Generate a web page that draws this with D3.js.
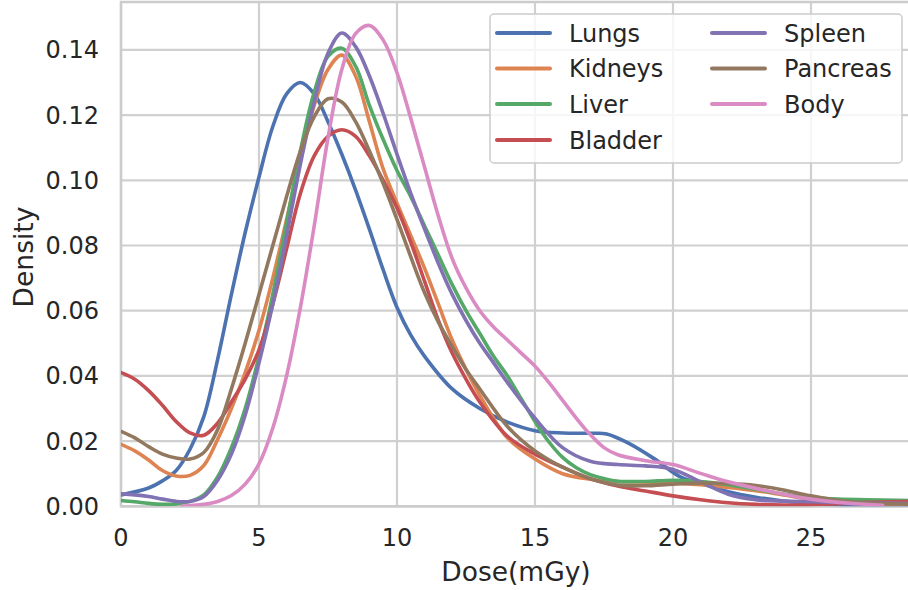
<!DOCTYPE html>
<html>
<head>
<meta charset="utf-8">
<script src="https://cdn.jsdelivr.net/npm/d3@7"></script>
<style>
  body { margin: 0; background: #fff; }
  svg { display: block; font-family: "DejaVu Sans", sans-serif; }
</style>
</head>
<body>
<svg width="908" height="590"></svg>
<script>
// kde curves, [dose, density]
var lungs = [[0,0.0035],[1,0.0056],[1.5,0.0078],[2,0.011],[2.5,0.0175],[3,0.0275],[3.5,0.045],[4,0.065],[4.5,0.084],[5,0.101],
  [5.5,0.1165],[6,0.1265],[6.5,0.130],[7,0.1265],[7.5,0.118],[8,0.108],[8.5,0.097],[9,0.085],[9.5,0.0725],[10,0.061],
  [10.5,0.0525],[11,0.046],[12,0.036],[13,0.030],[14,0.0258],[15,0.0232],[16,0.0225],[17,0.0224],[17.6,0.0222],[18.4,0.0193],
  [19.3,0.0147],[20.25,0.0091],[21,0.007],[22,0.0045],[23,0.0028],[24,0.0016],[25,0.0009],[26,0.0005],[27,0.0003],[29.5,0.0001]];
var kidneys = [[0,0.019],[0.5,0.017],[1,0.0142],[1.5,0.011],[2,0.0093],[2.5,0.0095],[3,0.0125],[3.5,0.0205],[4,0.030],
  [4.5,0.041],[5,0.054],[5.5,0.070],[6,0.088],[6.5,0.107],[7,0.123],[7.5,0.134],[8,0.1384],[8.5,0.132],[9,0.118],
  [9.5,0.1035],[10,0.093],[10.5,0.083],[11,0.073],[11.5,0.062],[12,0.051],[12.5,0.042],[13,0.034],[14,0.021],
  [15,0.0145],[16,0.010],[17,0.0083],[18,0.0076],[19,0.0074],[20,0.0072],[21,0.0066],[22,0.0058],[23,0.0048],
  [24,0.0035],[25,0.0022],[26,0.0014],[27,0.0009],[29.5,0.0005]];
var liver = [[0,0.0018],[0.5,0.0014],[1,0.0009],[1.5,0.0006],[2,0.0007],[2.5,0.0015],[3,0.0035],[3.5,0.009],[4,0.018],
  [4.5,0.030],[5,0.046],[5.5,0.065],[6,0.087],[6.5,0.109],[7,0.127],[7.5,0.138],[8,0.1405],[8.5,0.135],[9,0.123],
  [9.5,0.1125],[10,0.103],[10.5,0.095],[11,0.086],[11.5,0.077],[12,0.068],[12.5,0.060],[13,0.053],[13.5,0.046],
  [14,0.040],[14.5,0.033],[15,0.026],[15.5,0.0198],[16,0.015],[16.5,0.0118],[17,0.0097],[17.5,0.0085],[18,0.0077],
  [19,0.0076],[20,0.008],[21,0.0076],[22,0.0066],[23,0.0052],[24,0.0038],[25,0.0027],[26,0.0022],[27,0.002],[29.5,0.0016]];
var bladder = [[0,0.041],[0.5,0.039],[1,0.0355],[1.5,0.031],[2,0.026],[2.5,0.0225],[3,0.0218],[3.5,0.0255],[4,0.032],
  [4.5,0.039],[5,0.048],[5.5,0.062],[6,0.079],[6.5,0.096],[7,0.1075],[7.5,0.1135],[8,0.1155],[8.5,0.1135],[9,0.1075],
  [9.5,0.100],[10,0.0915],[10.5,0.081],[11,0.069],[11.5,0.057],[12,0.047],[12.5,0.039],[13,0.032],[14,0.0215],
  [15,0.016],[16,0.012],[17,0.0085],[18,0.0062],[19,0.0047],[20,0.0032],[21,0.002],[22,0.0011],[23,0.0006],
  [24,0.0004],[25,0.0005],[26,0.0008],[27,0.0012],[29.5,0.0016]];
var spleen = [[0,0.0038],[0.5,0.0035],[1,0.003],[1.5,0.0022],[2,0.0015],[2.5,0.0015],[3,0.003],[3.5,0.008],[4,0.016],
  [4.5,0.028],[5,0.044],[5.5,0.062],[6,0.083],[6.5,0.105],[7,0.124],[7.5,0.139],[8,0.1452],[8.5,0.141],[9,0.132],
  [9.5,0.1205],[10,0.108],[10.5,0.096],[11,0.085],[11.5,0.0745],[12,0.065],[12.5,0.057],[13,0.050],[13.5,0.044],
  [14,0.038],[15,0.027],[16,0.018],[17,0.0138],[18,0.0128],[19,0.0124],[20,0.0113],[21,0.0075],[22,0.0037],
  [23,0.002],[24,0.0016],[25,0.0014],[26,0.0012],[27,0.001],[29.5,0.0008]];
var pancreas = [[0,0.023],[0.5,0.021],[1,0.0183],[1.5,0.016],[2,0.0148],[2.5,0.0145],[3,0.0165],[3.5,0.0235],[4,0.036],
  [4.5,0.050],[5,0.065],[5.5,0.080],[6,0.095],[6.5,0.109],[7,0.1195],[7.5,0.125],[8,0.124],[8.5,0.118],[9,0.109],
  [9.5,0.099],[10,0.088],[10.5,0.0765],[11,0.0655],[11.5,0.0565],[12,0.049],[12.5,0.042],[13,0.036],[14,0.0245],
  [15,0.017],[16,0.012],[17,0.0085],[18,0.0065],[19,0.0063],[20,0.0068],[21,0.0071],[22,0.007],[23,0.0064],
  [24,0.005],[25,0.0032],[26,0.0018],[27,0.001],[29.5,0.0006]];
var body = [[2.2,0],[2.5,0.0002],[3,0.0006],[3.5,0.0015],[4,0.0033],[4.5,0.0068],[5,0.013],[5.5,0.024],[6,0.040],
  [6.5,0.061],[7,0.086],[7.5,0.113],[8,0.134],[8.5,0.145],[9,0.1475],[9.5,0.143],[10,0.133],[10.5,0.119],[11,0.104],
  [11.5,0.089],[12,0.076],[12.5,0.067],[13,0.060],[13.5,0.055],[14,0.051],[14.5,0.047],[15,0.043],[15.5,0.038],
  [16,0.0325],[16.5,0.027],[17,0.022],[17.5,0.018],[18,0.0158],[19,0.014],[20,0.0128],[21,0.0101],[22,0.0075],
  [23,0.0055],[24,0.0037],[25,0.0022],[26,0.0012],[27,0.0006],[27.6,0.0003]];

var names = ["Lungs", "Kidneys", "Liver", "Bladder", "Spleen", "Pancreas", "Body"];
var colors = ["#4c72b0", "#dd8452", "#55a868", "#c44e52", "#8172b3", "#937860", "#da8bc3"];
var series = [lungs, kidneys, liver, bladder, spleen, pancreas, body];
var xTicks = [0, 5, 10, 15, 20, 25, 30];
var yTicks = [0, 0.02, 0.04, 0.06, 0.08, 0.10, 0.12, 0.14];

var svg = d3.select("svg"),
    plotLeft = 121, plotTop = 2, plotBottom = 506.3,
    plotRight = plotLeft + 30 * 27.6;

var x = d3.scaleLinear().domain([0, 30]).range([plotLeft, plotRight]);
var y = d3.scaleLinear().domain([0, 0.1547]).range([plotBottom, plotTop]);

svg.append("defs").append("clipPath").attr("id", "plot")
  .append("rect").attr("x", plotLeft).attr("y", plotTop)
  .attr("width", plotRight - plotLeft).attr("height", plotBottom - plotTop);

// grid
var grid = svg.append("g").attr("stroke", "#d0d0d0").attr("stroke-width", 2.2);
grid.selectAll(".gx").data(xTicks).enter().append("line")
    .attr("x1", x).attr("x2", x).attr("y1", plotTop).attr("y2", plotBottom);
grid.selectAll(".gy").data(yTicks).enter().append("line")
    .attr("x1", plotLeft).attr("x2", plotRight).attr("y1", y).attr("y2", y);

// spines
svg.append("rect").attr("x", plotLeft).attr("y", plotTop)
  .attr("width", plotRight - plotLeft).attr("height", plotBottom - plotTop)
  .attr("fill", "none").attr("stroke", "#cccccc").attr("stroke-width", 2.5);

// curves
var line = d3.line()
    .x(function(d) { return x(d[0]); })
    .y(function(d) { return y(d[1]); })
    .curve(d3.curveCatmullRom.alpha(0.5));

svg.append("g").attr("clip-path", "url(#plot)")
  .selectAll("path").data(series).enter().append("path")
    .attr("d", line)
    .attr("fill", "none")
    .attr("stroke", function(d, i) { return colors[i]; })
    .attr("stroke-width", 3.6)
    .attr("stroke-linejoin", "round")
    .attr("stroke-linecap", "round");

// tick labels
var fontSize = 24;
svg.append("g").selectAll("text").data(xTicks.filter(function(t) { return x(t) < 908; })).enter().append("text")
    .attr("x", x).attr("y", 546)
    .attr("text-anchor", "middle").attr("fill", "#262626").attr("font-size", fontSize)
    .text(function(d) { return d; });
svg.append("g").selectAll("text").data(yTicks).enter().append("text")
    .attr("x", 99).attr("y", function(d) { return y(d) + 8.5; })
    .attr("text-anchor", "end").attr("fill", "#262626").attr("font-size", fontSize)
    .text(function(d) { return d3.format(".2f")(d); });

// axis labels
svg.append("text").attr("x", 516).attr("y", 581)
    .attr("text-anchor", "middle").attr("fill", "#262626").attr("font-size", 26.5)
    .text("Dose(mGy)");
svg.append("text").attr("transform", "translate(33,257) rotate(-90)")
    .attr("text-anchor", "middle").attr("fill", "#262626").attr("font-size", 26.5)
    .text("Density");

// legend
var legend = svg.append("g");
legend.append("rect").attr("x", 490).attr("y", 14).attr("width", 412).attr("height", 149)
    .attr("rx", 4).attr("fill", "#ffffff").attr("fill-opacity", 0.8)
    .attr("stroke", "#cccccc").attr("stroke-width", 1.5);

var rows = [33, 68.5, 104, 140];
var item = legend.selectAll(".item").data(names).enter().append("g")
    .attr("transform", function(d, i) {
        var col = i < 4 ? 0 : 1, row = i < 4 ? i : i - 4;
        return "translate(" + (col ? 712 : 497) + "," + rows[row] + ")";
    });
item.append("line").attr("x1", 0).attr("x2", 53).attr("y1", 0).attr("y2", 0)
    .attr("stroke", function(d, i) { return colors[i]; })
    .attr("stroke-width", 4).attr("stroke-linecap", "round");
item.append("text").attr("x", 72).attr("y", 8.5)
    .attr("fill", "#262626").attr("font-size", fontSize)
    .text(function(d) { return d; });
</script>
</body>
</html>
